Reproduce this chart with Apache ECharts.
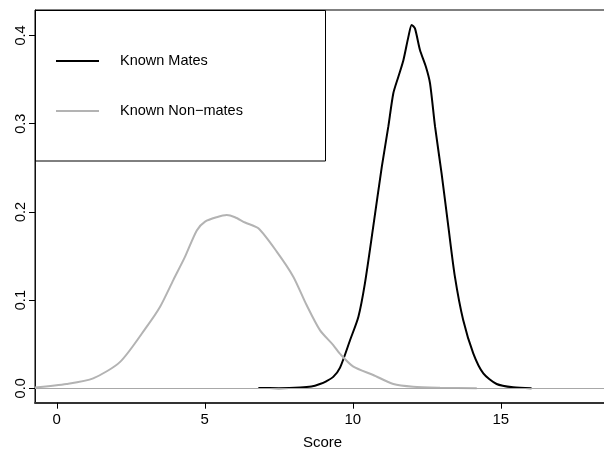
<!DOCTYPE html>
<html>
<head>
<meta charset="utf-8">
<script src="https://cdn.jsdelivr.net/npm/echarts@6/dist/echarts.min.js"></script>
<style>
html,body{margin:0;padding:0;background:#fff;}
#chart{width:604px;height:450px;}
</style>
</head>
<body>
<div id="chart"></div>
<script>
// Known Mates density
const matesX = [6.81, 7.5, 8.22, 8.6, 8.89, 9.1, 9.34, 9.57, 9.91, 10.19, 10.41, 10.69, 10.98, 11.20, 11.37, 11.54, 11.71, 11.88, 11.99, 12.10, 12.27, 12.47, 12.61, 12.78, 13.0, 13.23, 13.45, 13.73, 14.07, 14.41, 14.86, 15.42, 16.04];
const matesY = [0.0003, 0.0002, 0.0008, 0.002, 0.0049, 0.008, 0.013, 0.0235, 0.0548, 0.0812, 0.119, 0.183, 0.251, 0.2966, 0.3345, 0.3533, 0.372, 0.3987, 0.412, 0.408, 0.3836, 0.3646, 0.3458, 0.2966, 0.2438, 0.183, 0.1266, 0.0774, 0.0397, 0.017, 0.0049, 0.0011, 0.0002];
// Known Non-mates density
const nonMatesX = [-0.74, 0.33, 1.23, 2.14, 3.04, 3.49, 3.94, 4.33, 4.73, 5.01, 5.40, 5.74, 6.02, 6.36, 6.81, 7.43, 7.99, 8.44, 8.89, 9.34, 9.57, 10.02, 10.69, 11.37, 12.04, 12.95, 14.19];
const nonMatesY = [0.0008, 0.0049, 0.0113, 0.030, 0.070, 0.0925, 0.123, 0.149, 0.179, 0.189, 0.194, 0.1965, 0.194, 0.188, 0.1814, 0.155, 0.1266, 0.0944, 0.066, 0.049, 0.039, 0.0245, 0.0151, 0.0049, 0.0018, 0.0007, 0.0001];
const xTicks = [0, 5, 10, 15];
const yTicks = [0, 0.1, 0.2, 0.3, 0.4];
const seriesNames = ['Known Mates', 'Known Non\u2212mates'];
const xTitle = 'Score';

const zip = (xs, ys) => xs.map((x, i) => [x, ys[i]]);
const FONT = 'Liberation Sans, Arial, Helvetica, sans-serif';

const chart = echarts.init(document.getElementById('chart'), null, {renderer: 'canvas'});
chart.setOption({
  animation: false,
  backgroundColor: '#fff',
  textStyle: {fontFamily: FONT},
  grid: {left: 35, top: 10, width: 575, height: 392.7, show: true, borderColor: '#000', borderWidth: 1,
    containLabel: false, outerBoundsMode: 'none'},
  xAxis: {
    type: 'value', min: -0.736, max: 18.69,
    splitLine: {show: false},
    axisLine: {show: true, onZero: false, lineStyle: {color: '#333', width: 2}},
    axisTick: {show: true, length: 6, lineStyle: {color: '#000', width: 1}, customValues: xTicks},
    axisLabel: {customValues: xTicks, color: '#000', fontSize: 15, margin: 10, fontFamily: FONT},
    name: xTitle, nameLocation: 'middle', nameGap: 33,
    nameTextStyle: {color: '#000', fontSize: 15, fontFamily: FONT}
  },
  yAxis: {
    type: 'value', min: -0.0163, max: 0.4289,
    splitLine: {show: false},
    axisLine: {show: true, onZero: false, lineStyle: {color: '#111', width: 1}},
    axisTick: {show: true, length: 6, lineStyle: {color: '#000', width: 1}, customValues: yTicks},
    axisLabel: {customValues: yTicks, rotate: 90, color: '#000', fontSize: 14.5, margin: 7, fontFamily: FONT,
      formatter: v => v.toFixed(1)}
  },
  series: [
    {
      name: seriesNames[0], type: 'line', data: zip(matesX, matesY),
      showSymbol: false, smooth: 0.25, clip: true,
      lineStyle: {color: '#000', width: 2}, z: 2
    },
    {
      name: seriesNames[1], type: 'line', data: zip(nonMatesX, nonMatesY),
      showSymbol: false, smooth: 0.25, clip: true,
      lineStyle: {color: '#b3b3b3', width: 2}, z: 3,
      markLine: {
        silent: true, symbol: ['none', 'none'], label: {show: false},
        lineStyle: {color: '#a8a8a8', width: 1, type: 'solid'},
        data: [{yAxis: 0}]
      }
    }
  ],
  graphic: [
    {type: 'rect', shape: {x: 35.5, y: 10.5, width: 290, height: 150.5}, style: {fill: 'none', stroke: '#000', lineWidth: 1}, z: 10},
    {type: 'line', shape: {x1: 56, y1: 61, x2: 99, y2: 61}, style: {stroke: '#000', lineWidth: 2}, z: 10},
    {type: 'text', x: 120, y: 61, style: {text: seriesNames[0], fill: '#000', font: '14.5px ' + FONT, textVerticalAlign: 'middle', verticalAlign: 'middle'}, z: 10},
    {type: 'line', shape: {x1: 56, y1: 111, x2: 99, y2: 111}, style: {stroke: '#b3b3b3', lineWidth: 2}, z: 10},
    {type: 'text', x: 120, y: 111, style: {text: seriesNames[1], fill: '#000', font: '14.5px ' + FONT, textVerticalAlign: 'middle', verticalAlign: 'middle'}, z: 10}
  ]
});
</script>
</body>
</html>
